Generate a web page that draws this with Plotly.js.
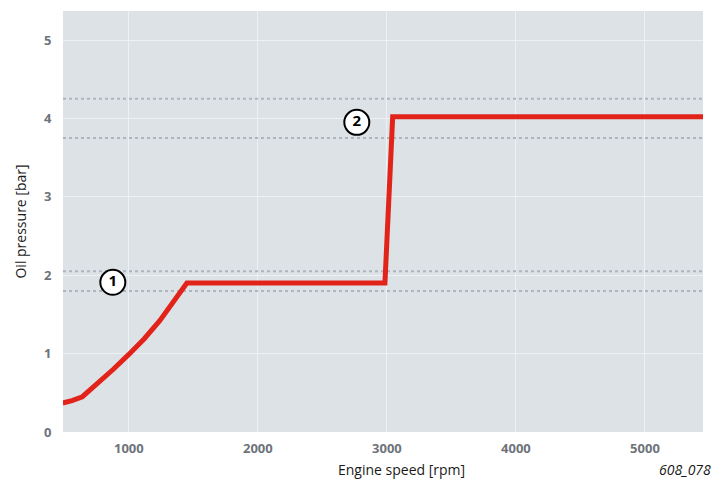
<!DOCTYPE html>
<html>
<head>
<meta charset="utf-8">
<script src="https://cdn.plot.ly/plotly-3.0.1.min.js"></script>
<style>html,body{margin:0;padding:0;background:#fff;}#chart{width:714px;height:486px;}</style>
</head>
<body>
<div id="chart"></div>
<script>
// Oil pressure curve (engine speed rpm, pressure bar)
var speedRpm = [488, 560, 640, 760, 880, 1000, 1120, 1240, 1350, 1450, 2985, 3045, 5450];
var pressureBar = [0.37, 0.40, 0.45, 0.62, 0.80, 0.99, 1.19, 1.42, 1.68, 1.90, 1.90, 4.02, 4.02];

// Dotted tolerance band levels (bar)
var bandLevels = [4.25, 3.75, 2.05, 1.8];

// Numbered markers
var markerLabels = ["1", "2"];
var markerX = [876, 2767];
var markerY = [1.91, 3.95];

var xTicks = [1000, 2000, 3000, 4000, 5000];
var yTicks = [0, 1, 2, 3, 4, 5];

var xRange = [490, 5450];
var yRange = [0, 5.37];

var traces = [];
bandLevels.forEach(function (lv) {
  traces.push({
    x: xRange, y: [lv, lv], mode: 'lines', hoverinfo: 'skip', showlegend: false,
    line: {color: '#aeb5bd', width: 2, dash: 'dot'}
  });
});
traces.push({
  x: speedRpm, y: pressureBar, mode: 'lines', showlegend: false,
  line: {color: '#e2231a', width: 5}
});
traces.push({
  x: markerX, y: markerY, text: markerLabels, mode: 'markers+text', showlegend: false,
  marker: {size: 25, color: '#ffffff', line: {color: '#000000', width: 2}},
  textposition: 'middle center',
  textfont: {family: 'Open Sans, sans-serif', size: 15, color: '#000000', weight: 'bold'}
});

var layout = {
  width: 714, height: 486,
  margin: {l: 63, r: 11, t: 11, b: 54},
  paper_bgcolor: '#ffffff',
  plot_bgcolor: '#dde2e6',
  font: {family: 'Open Sans, sans-serif'},
  xaxis: {
    range: xRange, tickvals: xTicks, ticktext: xTicks.map(String),
    showgrid: true, gridcolor: '#eef1f3', gridwidth: 1, zeroline: false,
    showline: false, ticks: 'outside', ticklen: 4, tickcolor: 'rgba(0,0,0,0)',
    tickfont: {family: 'Open Sans, sans-serif', size: 13, color: '#6e737a', weight: 'bold'}
  },
  yaxis: {
    range: yRange, tickvals: yTicks, ticktext: yTicks.map(String),
    showgrid: true, gridcolor: '#eef1f3', gridwidth: 1, zeroline: false,
    showline: false, ticks: 'outside', ticklen: 8, tickcolor: 'rgba(0,0,0,0)',
    tickfont: {family: 'Open Sans, sans-serif', size: 13, color: '#6e737a', weight: 'bold'},
    title: {text: 'Oil pressure [bar]', standoff: 14, font: {family: 'Open Sans, sans-serif', size: 14, color: '#1a1a1a'}}
  },
  annotations: [
    {text: 'Engine speed [rpm]', xref: 'paper', yref: 'paper', x: 0.529, y: -0.062,
     xanchor: 'center', yanchor: 'top', showarrow: false,
     font: {family: 'Open Sans, sans-serif', size: 14, color: '#1a1a1a'}},
    {text: '<i>608_078</i>', xref: 'paper', yref: 'paper', x: 1.015, y: -0.062,
     xanchor: 'right', yanchor: 'top', showarrow: false,
     font: {family: 'Open Sans, sans-serif', size: 14, color: '#1a1a1a'}}
  ]
};

Plotly.newPlot('chart', traces, layout, {displayModeBar: false, staticPlot: true});
</script>
</body>
</html>
